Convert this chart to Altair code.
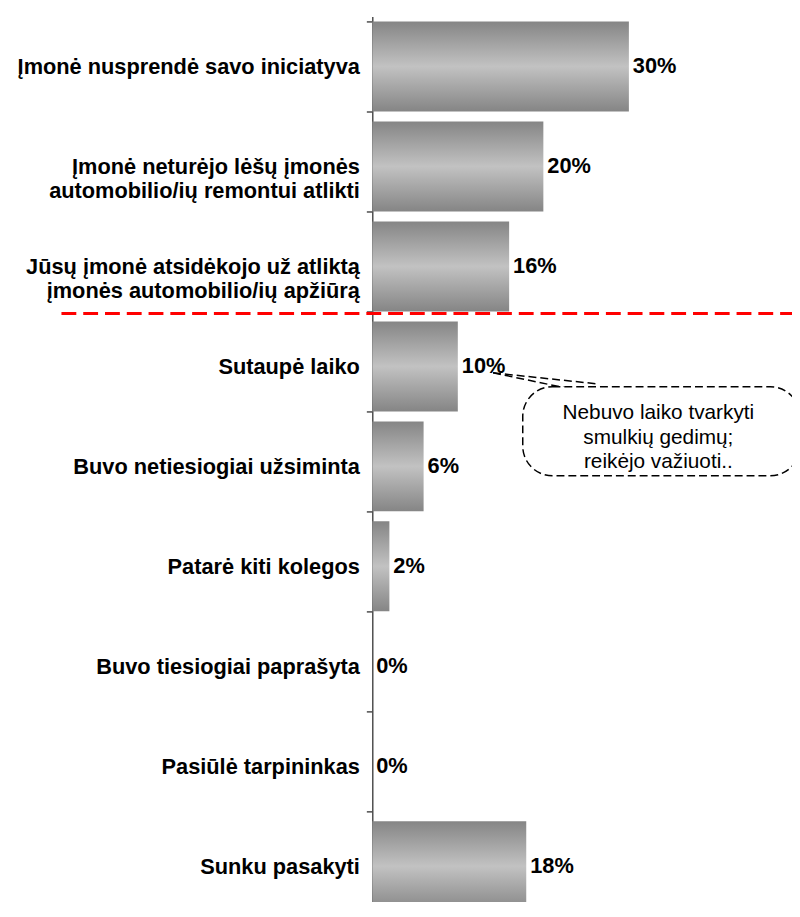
import altair as alt
import pandas as pd

categories = [
    "Įmonė nusprendė savo iniciatyva",
    "Įmonė neturėjo lėšų įmonės|automobilio/ių remontui atlikti",
    "Jūsų įmonė atsidėkojo už atliktą|įmonės automobilio/ių apžiūrą",
    "Sutaupė laiko",
    "Buvo netiesiogiai užsiminta",
    "Patarė kiti kolegos",
    "Buvo tiesiogiai paprašyta",
    "Pasiūlė tarpininkas",
    "Sunku pasakyti",
]
values = [30, 20, 16, 10, 6, 2, 0, 0, 18]
value_labels = ["30%", "20%", "16%", "10%", "6%", "2%", "0%", "0%", "18%"]

note_lines = ["Nebuvo laiko tvarkyti", "smulkių gedimų;", "reikėjo važiuoti.."]

df = pd.DataFrame({"cat": categories, "val": values, "lbl": value_labels})

FONT = "Liberation Sans"

y_enc = alt.Y(
    "cat:N",
    sort=categories,
    title=None,
    scale=alt.Scale(range=[0, 909], paddingInner=0.1, paddingOuter=0.05),
    axis=alt.Axis(
        labelExpr="split(datum.label, '|')",
        labelFont=FONT,
        labelFontSize=22,
        labelFontWeight="bold",
        labelColor="#000000",
        labelLimit=0,
        labelPadding=7,
        labelLineHeight=24,
        labelAlign="right",
        tickBand="extent",
        tickSize=6,
        tickColor="#4d4d4d",
        tickWidth=1.5,
        domainColor="#4d4d4d",
        domainWidth=1.5,
        grid=False,
    ),
)
x_enc = alt.X("val:Q", axis=None, scale=alt.Scale(domain=[0, 49.07], nice=False))

grad = alt.Gradient(
    gradient="linear",
    x1=0, y1=0, x2=0, y2=1,
    stops=[
        alt.GradientStop(color="#858585", offset=0),
        alt.GradientStop(color="#c2c2c2", offset=0.5),
        alt.GradientStop(color="#858585", offset=1),
    ],
)

bars = alt.Chart(df).mark_bar(color=grad).encode(x=x_enc, y=y_enc)

labels = alt.Chart(df).mark_text(
    align="left", baseline="middle", dx=4, font=FONT, fontSize=22,
    fontWeight="bold", color="#000000"
).encode(x=x_enc, y=alt.Y("cat:N", sort=categories), text="lbl:N")

# annotations (page coords minus plot origin 376,12)
red_line = alt.Chart(pd.DataFrame({"a": [0]})).mark_rule(
    color="#ff0000", strokeWidth=3, strokeDash=[15, 7]
).encode(x=alt.value(-314), x2=alt.value(430), y=alt.value(300))

bubble = alt.Chart(pd.DataFrame({"a": [0]})).mark_rect(
    fill="#ffffff", stroke="#000000", strokeWidth=1.5, strokeDash=[8, 4],
    cornerRadius=30
).encode(x=alt.value(152), x2=alt.value(432), y=alt.value(374), y2=alt.value(464))

ptr1 = alt.Chart(pd.DataFrame({"a": [0]})).mark_rule(
    color="#000000", strokeWidth=1.5, strokeDash=[8, 4]
).encode(x=alt.value(122), y=alt.value(360), x2=alt.value(199), y2=alt.value(376))

ptr2 = alt.Chart(pd.DataFrame({"a": [0]})).mark_rule(
    color="#000000", strokeWidth=1.5, strokeDash=[8, 4]
).encode(x=alt.value(122), y=alt.value(360), x2=alt.value(226), y2=alt.value(371))

note = alt.Chart(pd.DataFrame({"t": [note_lines]})).mark_text(
    align="center", baseline="middle", font=FONT, fontSize=21,
    lineHeight=24.5, color="#000000"
).encode(x=alt.value(289), y=alt.value(401), text="t")

chart = alt.layer(bars, labels, red_line, ptr1, ptr2, bubble, note).properties(
    width=424,
    height=890,
    autosize=alt.AutoSizeParams(type="none"),
    padding={"left": 368, "top": 4, "right": 0, "bottom": 0},
).configure_view(stroke=None)

chart.save("out.html", embed_options={"renderer": "svg", "actions": False})
